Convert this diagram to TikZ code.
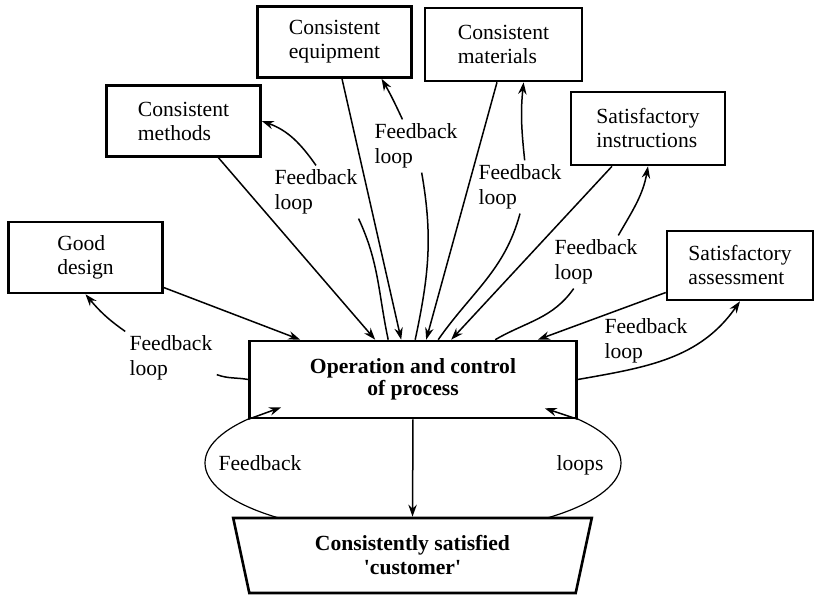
\documentclass[tikz,border=0pt]{standalone}
\usepackage{fontspec}
\setmainfont{Liberation Serif}
\usepackage{tikz}
\usetikzlibrary{shapes.geometric, arrows.meta, positioning, calc}
\tikzstyle{box} = [draw, rectangle, line width=1.3pt, fill=white, align=left, minimum width=77pt, minimum height=35.5pt, font=\fontsize{10.8}{12}\selectfont]
\tikzstyle{procbox} = [draw, rectangle, line width=1.3pt, fill=white, align=center, minimum width=163.5pt, minimum height=38.5pt, font=\bfseries\fontsize{10.8}{11.2}\selectfont]
\tikzstyle{custbox} = [draw, trapezium, shape border rotate=180, trapezium left angle=79, trapezium right angle=79, trapezium stretches=true, line width=1.3pt, fill=white, align=center, minimum width=179.5pt, minimum height=37.5pt, font=\bfseries\fontsize{10.8}{12}\selectfont]
\tikzstyle{fb} = [align=left, inner sep=2pt, font=\fontsize{10.8}{12.4}\selectfont]
\tikzstyle{arrow} = [line width=0.75pt,->,>={Stealth[length=6pt, width=4.2pt]}]

\begin{document}
\begin{tikzpicture}[x=0.5pt, y=-0.5pt]
    \useasboundingbox (0,0) rectangle (816,598);
    % Nodes
    \node (loopring) [draw, ellipse, line width=0.6pt, minimum width=208pt, minimum height=72pt] at (413,463) {};
    \node (proc) [procbox] at (413,379.5) {Operation and control\\of process};
    \node (cust) [custbox] at (412.5,555.5) {Consistently satisfied\\\textquotesingle customer\textquotesingle};
    \node (design) [box] at (85.5,257.5) {Good\\design};
    \node (methods) [box] at (183.5,121) {Consistent\\methods};
    \node (equip) [box] at (334.5,42) {Consistent\\equipment};
    \node (mater) [box, minimum width=78.5pt, minimum height=36.5pt] at (503.5,44.5) {Consistent\\materials};
    \node (instr) [box, minimum height=36.5pt] at (648,128.5) {Satisfactory\\instructions};
    \node (assess) [box, minimum width=73pt, minimum height=34.5pt] at (740,265.5) {Satisfactory\\assessment};

    % Feedback labels
    \node (fb1) [fb] at (171,358) {Feedback\\loop};
    \node (fb2) [fb] at (316,192) {Feedback\\loop};
    \node (fb3) [fb] at (416,146) {Feedback\\loop};
    \node (fb4) [fb] at (520,187) {Feedback\\loop};
    \node (fb5) [fb] at (596,262) {Feedback\\loop};
    \node (fb6) [fb] at (646,341) {Feedback\\loop};
    \node (fbleft) [fb] at (260,463) {Feedback};
    \node (fbright) [fb] at (580,465) {loops};

    % Arrows into the process
    \draw [arrow] (design.-21) -- ($(proc.north west)+(52,0)$);
    \draw [arrow] ($(methods.south)+(35,0)$) -- ($(proc.north west)+(127,0)$);
    \draw [arrow] ($(equip.south)+(7.5,0)$) -- ($(proc.north west)+(153,0)$);
    \draw [arrow] ($(mater.south)+(-6.5,0)$) -- ($(proc.north west)+(178,0)$);
    \draw [arrow] ($(instr.south)+(-36,0)$) -- ($(proc.north west)+(203,0)$);
    \draw [arrow] (assess.200) -- ($(proc.north east)+(-40,0)$);

    % Feedback loops
    \draw [arrow] (proc.west) to[out=170, in=-20] (fb1.-20)
        (fb1.north west) to[out=145, in=-50] (design.south);
    \draw [arrow] ($(proc.north west)+(140,0)$) to[out=102, in=-65] (fb2.-32)
        (fb2.north) to[out=125, in=-20] (methods.east);
    \draw [arrow] ($(proc.north west)+(167,0)$) to[out=78, in=-80] (fb3.-78)
        (fb3.117) to[out=115, in=-60] (equip.-38);
    \draw [arrow] ($(proc.north west)+(190,0)$) to[out=55, in=-105] (fb4.south)
        (fb4.80) to[out=96, in=-96] (mater.-62);
    \draw [arrow] ($(proc.north west)+(247,0)$) to[out=30, in=-125] (fb5.-130)
        (fb5.50) to[out=60, in=-100] (instr.south);
    \draw [arrow] (proc.east) to[out=10, in=-125] (assess.south);

    % Bottom loop
    \draw [arrow] (proc.south west) -- ($(proc.south west)+(33,-12)$);
    \draw [arrow] (proc.south east) -- ($(proc.south east)+(-33,-11)$);
    \draw [arrow] (proc.south) -- (cust.north);
\end{tikzpicture}
\end{document}
